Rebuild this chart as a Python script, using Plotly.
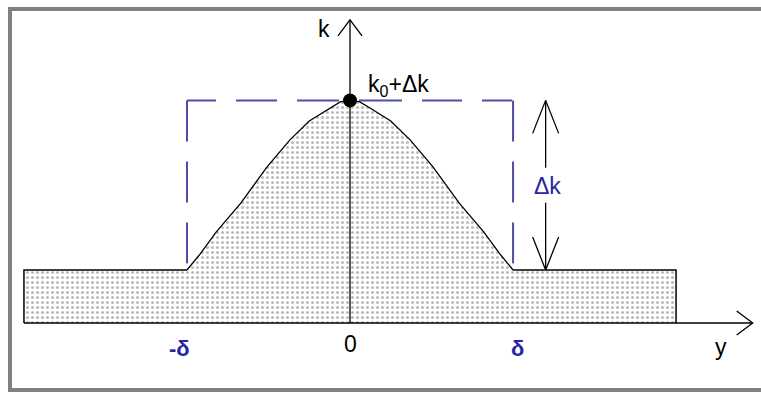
import plotly.graph_objects as go

# Profile of k(y): y in units of delta, k in units of k0
delta = 1.0
k0 = 1.0
dk = 3.2
y_curve = [-1.0, -0.92, -0.82, -0.67, -0.51, -0.37, -0.25, -0.12, -0.06, 0.0,
           0.06, 0.12, 0.25, 0.37, 0.51, 0.67, 0.82, 0.92, 1.0]
k_curve = [1.0, 1.30, 1.72, 2.26, 2.94, 3.45, 3.81, 4.06, 4.17, 4.2,
           4.17, 4.06, 3.81, 3.45, 2.94, 2.26, 1.72, 1.30, 1.0]
strip_half_width = 2.0
y_axis_end = 2.47
k_axis_end = 5.72
dk_arrow_y = 1.2

tick_text = ["-δ", "0", "δ"]
tick_pos = [-delta, 0.0, delta]

W, H = 761, 393
x_range = [-2.147, 2.521]
y_range = [-1.321, 6.094]
sx = W / (x_range[1] - x_range[0])   # px per unit along y
sy = H / (y_range[1] - y_range[0])   # px per unit along k

BLUE_LINE = "rgb(78,78,168)"
BLUE_TEXT = "rgb(38,38,165)"
FONT = "Liberation Sans, Arial, sans-serif"
FS = 23

fig = go.Figure()

# stippled region under the profile
fx = [-strip_half_width, -strip_half_width] + y_curve + [strip_half_width, strip_half_width]
fk = [0, k0] + k_curve + [k0, 0]
fig.add_trace(go.Scatter(
    x=fx + [fx[0]], y=fk + [fk[0]], mode="lines", fill="toself",
    line=dict(width=0, color="rgba(0,0,0,0)"),
    fillcolor="white",
    fillpattern=dict(shape=".", fgcolor="#777777", bgcolor="white", size=5, solidity=0.3),
    hoverinfo="skip"))

# dashed rectangle of height dk over [-delta, delta]
top = k0 + dk
fig.add_trace(go.Scatter(x=[-delta, -delta], y=[top, k0], mode="lines",
                         line=dict(color=BLUE_LINE, width=2, dash="41px,20px")))
fig.add_trace(go.Scatter(x=[-delta, delta], y=[top, top], mode="lines",
                         line=dict(color=BLUE_LINE, width=2,
                                   dash="29px,20px,41px,20px,42px,20px,43px,20px,40px,20px,30px")))
fig.add_trace(go.Scatter(x=[delta, delta], y=[top, k0], mode="lines",
                         line=dict(color=BLUE_LINE, width=2, dash="41px,20px")))

# outline: shelves and profile
fig.add_trace(go.Scatter(x=[-strip_half_width, -strip_half_width, -delta], y=[0, k0, k0],
                         mode="lines", line=dict(color="black", width=1.5)))
fig.add_trace(go.Scatter(x=[delta, strip_half_width, strip_half_width], y=[k0, k0, 0],
                         mode="lines", line=dict(color="black", width=1.5)))
fig.add_trace(go.Scatter(x=y_curve, y=k_curve, mode="lines",
                         line=dict(color="black", width=1.3)))


def open_head(x_tip, y_tip, ux, uy, length, half):
    """Open V arrowhead; (ux, uy) is the pointing direction in pixels."""
    xs = [x_tip - (ux * length + uy * half) / sx, x_tip,
          x_tip - (ux * length - uy * half) / sx]
    ys = [y_tip - (uy * length - ux * half) / sy, y_tip,
          y_tip - (uy * length + ux * half) / sy]
    return xs, ys


axis_style = dict(color="black", width=1.3)
# y axis (horizontal) and k axis (vertical)
fig.add_trace(go.Scatter(x=[-strip_half_width, y_axis_end], y=[0, 0], mode="lines", line=axis_style))
hx, hy = open_head(y_axis_end, 0, 1, 0, 16, 12)
fig.add_trace(go.Scatter(x=hx, y=hy, mode="lines", line=axis_style))
fig.add_trace(go.Scatter(x=[0, 0], y=[0, k_axis_end], mode="lines", line=axis_style))
hx, hy = open_head(0, k_axis_end, 0, 1, 16, 12)
fig.add_trace(go.Scatter(x=hx, y=hy, mode="lines", line=axis_style))

# double arrow marking dk, broken around its label
gap_top, gap_bot = 2.93, 2.27
fig.add_trace(go.Scatter(x=[dk_arrow_y, dk_arrow_y], y=[top, gap_top], mode="lines", line=axis_style))
fig.add_trace(go.Scatter(x=[dk_arrow_y, dk_arrow_y], y=[gap_bot, k0], mode="lines", line=axis_style))
hx, hy = open_head(dk_arrow_y, top, 0, 1, 33, 13)
fig.add_trace(go.Scatter(x=hx, y=hy, mode="lines", line=axis_style))
hx, hy = open_head(dk_arrow_y, k0, 0, -1, 33, 13)
fig.add_trace(go.Scatter(x=hx, y=hy, mode="lines", line=axis_style))

# peak point
fig.add_trace(go.Scatter(x=[0], y=[top], mode="markers",
                         marker=dict(color="black", size=14)))

ann = []
for t, p in zip(tick_text, tick_pos):
    blue = t != "0"
    ann.append(dict(x=p, y=0, text=f"<b>{t}</b>" if blue else t, showarrow=False,
                    xshift=-7 if p < 0 else (4 if p > 0 else 0),
                    yshift=-26 if blue else -21,
                    font=dict(family=FONT, size=FS - 1 if blue else FS,
                              color=BLUE_TEXT if blue else "black")))
ann.append(dict(x=0, y=k_axis_end, text="k", showarrow=False, xanchor="right",
                xshift=-18, yshift=-9, font=dict(family=FONT, size=FS, color="black")))
ann.append(dict(x=0, y=top, text="k<sub>0</sub>+Δk", showarrow=False, xanchor="left",
                xshift=16, yshift=15, font=dict(family=FONT, size=FS, color="black")))
ann.append(dict(x=y_axis_end, y=0, text="y", showarrow=False,
                xshift=-32, yshift=-24, font=dict(family=FONT, size=FS, color="black")))
ann.append(dict(x=dk_arrow_y, y=(gap_top + gap_bot) / 2, text="Δk", showarrow=False,
                xshift=2, yshift=-1, font=dict(family=FONT, size=FS, color=BLUE_TEXT)))

fig.update_layout(
    width=W, height=H, margin=dict(l=0, r=0, t=0, b=0),
    paper_bgcolor="white", plot_bgcolor="white", showlegend=False,
    xaxis=dict(range=x_range, visible=False, fixedrange=True),
    yaxis=dict(range=y_range, visible=False, fixedrange=True),
    annotations=ann,
    shapes=[dict(type="rect", xref="paper", yref="paper",
                 x0=10 / W, x1=1.02, y0=1 - 390 / H, y1=1 - 9 / H,
                 line=dict(color="#808080", width=4), layer="above")],
)

fig.write_html("out.html")
